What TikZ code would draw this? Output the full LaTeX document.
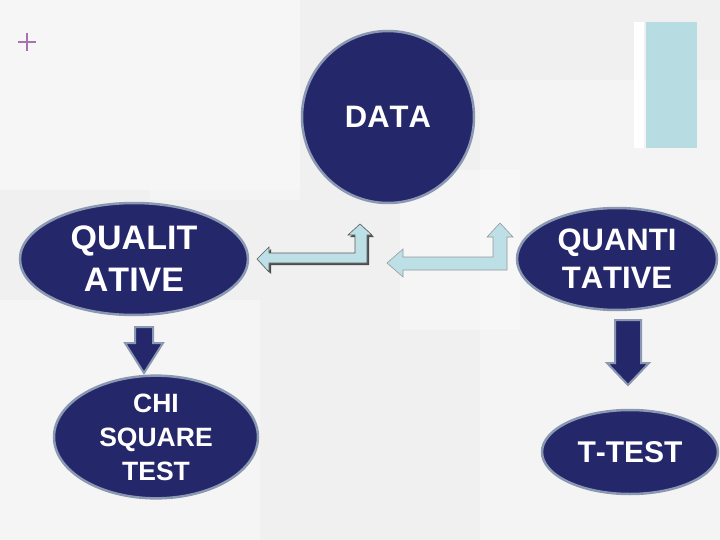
\documentclass[tikz,border=0pt]{standalone}
\usepackage{fontspec}
\setmainfont[Kerning=Off]{Liberation Sans}
\usetikzlibrary{shapes.geometric}
\definecolor{navy}{HTML}{25276B}
\definecolor{rimc}{HTML}{8A98B2}
\definecolor{lblue}{HTML}{BCE0E6}
\definecolor{panel}{HTML}{B7DDE3}
\definecolor{plusc}{HTML}{A672B0}
\definecolor{bgc}{HTML}{F0F0F0}
\definecolor{bgl}{HTML}{F6F6F6}
\tikzset{
  oval/.style={ellipse, fill=navy, draw=rimc, line width=2.5pt, text=white, align=center, font=\bfseries, inner sep=0pt},
  downarrow/.style={fill=navy, draw=rimc, line width=2pt, line join=miter},
  bentarrow/.style={fill=lblue, draw=gray!70!black, line width=0.6pt, line join=miter},
  bentshadow/.style={fill=gray!60!black, draw=none}
}
\begin{document}
\begin{tikzpicture}[x=1pt,y=-1pt]
\useasboundingbox (0,0) rectangle (720,540);
% background
\fill[bgc] (0,0) rectangle (720,540);
\fill[bgl] (0,0) rectangle (300,190);
\fill[white,opacity=0.35] (0,300) rectangle (260,540);
\fill[white,opacity=0.3] (480,80) rectangle (720,540);
\fill[gray!6,opacity=0.6] (150,60) rectangle (300,200);
\fill[white,opacity=0.35] (400,170) rectangle (520,330);
% plus sign
\draw[plusc, line width=1.2pt] (18,42) -- (36,42) (27,33) -- (27,51);
% right panel
\fill[white] (634,22) rectangle (644,148);
\fill[panel] (646,22) rectangle (697,148);
% ellipses
\node[oval, minimum width=172pt, minimum height=172pt, font=\bfseries\fontsize{31}{36}\selectfont] (data) at (388,117) {DATA};
\node[oval, minimum width=228pt, minimum height=112pt, font=\bfseries\fontsize{34}{42}\selectfont] (qual) at (134,259) {QUALIT\\ATIVE};
\node[oval, minimum width=200pt, minimum height=102pt, font=\bfseries\fontsize{31}{38}\selectfont] (quant) at (617,259) {QUANTI\\TATIVE};
\node[oval, minimum width=204pt, minimum height=104pt, font=\bfseries\fontsize{26.5}{34}\selectfont] (chi) at (156,437) {CHI\\SQUARE\\TEST};
\node[oval, minimum width=176pt, minimum height=84pt, font=\bfseries\fontsize{30}{36}\selectfont] (ttest) at (630,452) {T-TEST};
% down arrows
\draw[downarrow] (135,327) -- (153,327) -- (153,343) -- (163,343) -- (144,373) -- (125,343) -- (135,343) -- cycle;
\draw[downarrow] (615,320) -- (641,320) -- (641,363) -- (649,363) -- (628,385) -- (607,363) -- (615,363) -- cycle;
% bent arrows
\fill[bentshadow] (259,261) -- (271,249) -- (271,255) -- (357,255) -- (357,237) -- (350,237) -- (362,226) -- (374,237) -- (369,237) -- (369,265) -- (271,265) -- (271,274) -- cycle;
\draw[bentarrow] (257,259) -- (269,247) -- (269,253) -- (355,253) -- (355,235) -- (348,235) -- (360,224) -- (372,235) -- (367,235) -- (367,263) -- (269,263) -- (269,272) -- cycle;
\draw[bentarrow, draw=gray!80] (387,263) -- (403,249) -- (403,257) -- (493,257) -- (493,237) -- (487,237) -- (500,223) -- (513,237) -- (507,237) -- (507,270) -- (403,270) -- (403,277) -- cycle;
\end{tikzpicture}
\end{document}
